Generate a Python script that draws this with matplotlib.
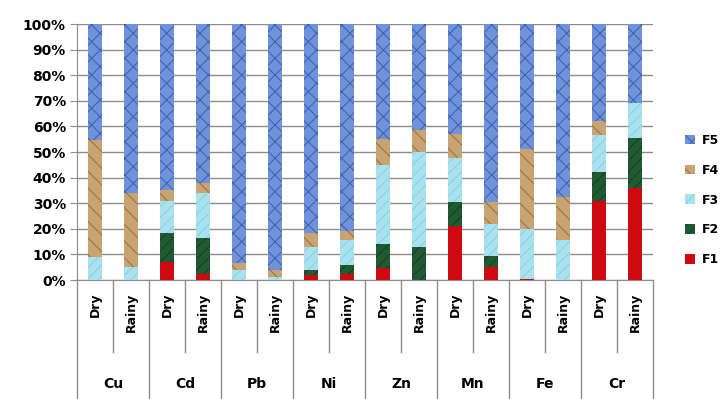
import matplotlib.pyplot as plt
import numpy as np
from matplotlib.patches import Patch

# percent share of each fraction, per metal and season
metals = ['Cu', 'Cd', 'Pb', 'Ni', 'Zn', 'Mn', 'Fe', 'Cr']
seasons = ['Dry', 'Rainy']
f1 = [0, 0, 7, 2.5, 0, 0, 2, 2.5, 4.5, 0, 21, 5, 0.5, 0, 31, 36]
f2 = [0, 0, 11.5, 14, 0, 0, 2, 3.5, 9.5, 13, 9.5, 4.5, 0, 0, 11, 19.5]
f3 = [9, 5, 12.5, 17.5, 4, 1, 9, 9.5, 31, 37, 17, 12.5, 19.5, 15.5, 14.5, 13.5]
f4 = [45.5, 29, 4, 4, 2.5, 3, 5.5, 3.5, 10, 8.5, 9.5, 8.5, 31, 17, 5.5, 0]
f5 = [45.5, 66, 65, 62, 93.5, 96, 81.5, 81, 45, 41.5, 43, 69.5, 49, 67.5, 38, 31]
fractions = ['F1', 'F2', 'F3', 'F4', 'F5']

# fill, hatch colour, hatch
styles = {
    'F1': ('#cc0a0f', '#b00008', ''),
    'F2': ('#1f5a32', '#143f22', '///'),
    'F3': ('#a9e2ee', '#86d0e2', '///'),
    'F4': ('#c9a473', '#94703f', '\\\\'),
    'F5': ('#6f92d9', '#3a5fb0', 'xx'),
}

plt.rcParams['hatch.linewidth'] = 0.7

fig = plt.figure(figsize=(7.26, 3.99), dpi=100)
ax = fig.add_axes([77 / 726, 1 - 280 / 399, 576 / 726, 256 / 399])

x = np.arange(len(f1))
bottom = np.zeros(len(f1))
for name, vals in zip(fractions, [f1, f2, f3, f4, f5]):
    fc, hc, hatch = styles[name]
    ax.bar(x, vals, width=0.39, bottom=bottom, color=fc, edgecolor=hc,
           hatch=hatch, linewidth=0, zorder=3)
    bottom += np.array(vals)

ax.set_xlim(-0.5, len(f1) - 0.5)
ax.set_ylim(0, 100)
ax.set_yticks(np.arange(0, 101, 10))
ax.set_yticklabels([f'{v}%' for v in range(0, 101, 10)],
                   fontsize=10, fontweight='bold')
ax.yaxis.grid(True, color='#8c8c8c', linewidth=1, zorder=0)
ax.tick_params(axis='y', length=5, color='#8c8c8c', pad=3)
ax.set_xticks([])
for side in ['top', 'right']:
    ax.spines[side].set_visible(False)
ax.spines['left'].set_color('#8c8c8c')
ax.spines['bottom'].set_color('#8c8c8c')

# two-level category axis below the bars
tr = ax.get_xaxis_transform()
for i in range(len(f1)):
    ax.text(x[i], -0.05, seasons[i % 2], transform=tr, rotation=90,
            ha='center', va='top', fontsize=9, fontweight='bold')
for g, m in enumerate(metals):
    ax.text(2 * g + 0.5, -0.405, m, transform=tr, ha='center', va='center',
            fontsize=10, fontweight='bold')
    ax.plot([2 * g + 0.5, 2 * g + 0.5], [0, -0.28], transform=tr,
            color='#8c8c8c', lw=1, clip_on=False)
for g in range(len(metals) + 1):
    ax.plot([2 * g - 0.5, 2 * g - 0.5], [0, -0.47], transform=tr,
            color='#8c8c8c', lw=1, clip_on=False)

handles = [Patch(facecolor=styles[n][0], edgecolor=styles[n][1],
                 hatch=styles[n][2], linewidth=0, label=n)
           for n in fractions[::-1]]
leg = fig.legend(handles=handles, loc='center left',
                 bbox_to_anchor=(674 / 726, 1 - 200 / 399), frameon=False,
                 prop={'weight': 'bold', 'size': 9}, handlelength=0.8,
                 handleheight=0.8, handletextpad=0.5, labelspacing=1.35)

fig.savefig('out.png', dpi=100)
